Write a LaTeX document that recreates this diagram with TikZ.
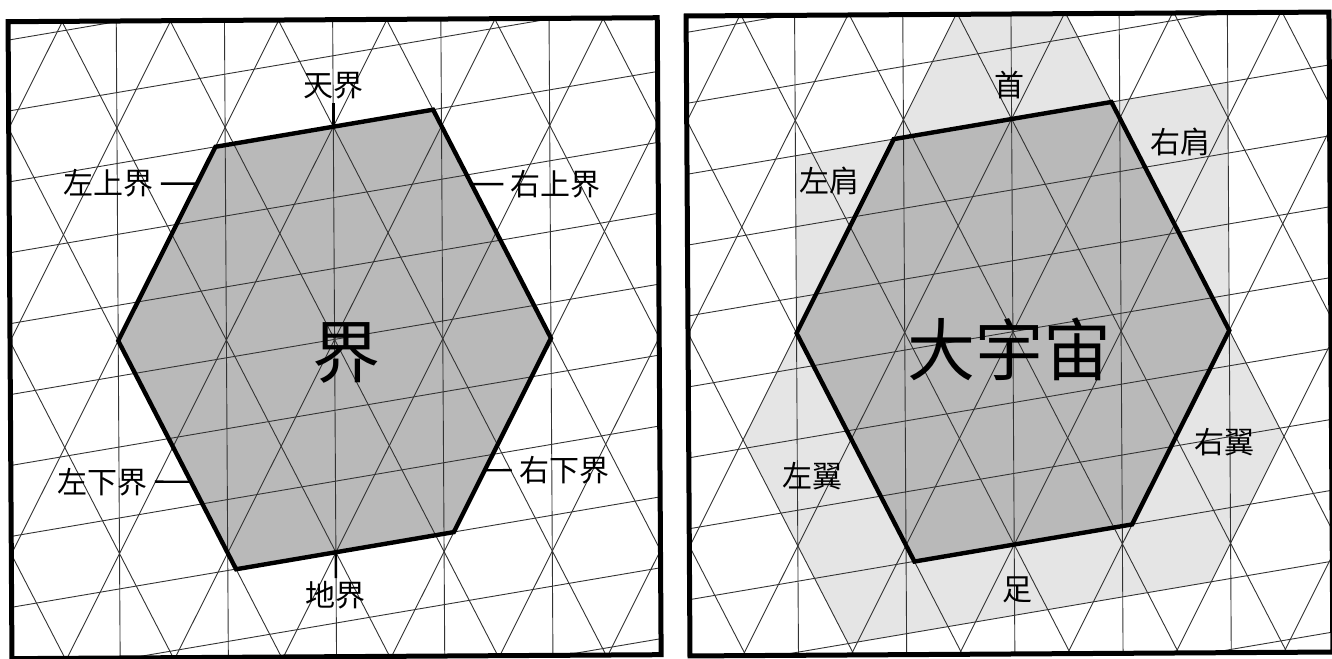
\documentclass[tikz,border=0pt]{standalone}
\usepackage{fontspec}
\setmainfont{Noto Sans CJK SC}
\usetikzlibrary{positioning,calc}

% lattice sizes (px of the scan)
\def\colw{54.1}
\def\rowh{106.4}
\def\tilt{0.164}

\tikzset{
  gridline/.style={line width=0.45pt, black!80},
  hexedge/.style={line width=2.2pt, line join=miter},
  panelframe/.style={line width=2.5pt},
  tick/.style={line width=1.2pt},
  lbl/.style={font=\fontsize{15}{15}\selectfont, inner sep=1.5pt},
  side/.style={lbl, inner sep=3.5pt},
  bigword/.style={font=\fontsize{34}{34}\selectfont, inner sep=0pt},
}

% triangle grid with the tilted lines, local coordinates
\newcommand{\trigrid}{%
  \foreach \a in {-4,-2,...,4}
    \draw[gridline] ({\a*\colw},-130) -- ({\a*\colw},560);
  \foreach \a in {-8,-6,...,12}
    \draw[gridline] ({(\a+1.5)*\colw},{-1.5*\rowh}) -- ({(\a-5.5)*\colw},{5.5*\rowh});
  \foreach \a in {-12,-10,...,8}
    \draw[gridline] ({(\a-1.5)*\colw},{-1.5*\rowh}) -- ({(\a+5.5)*\colw},{5.5*\rowh});
  \foreach \m in {-2,...,8}
    \draw[gridline] (-340,{70.9*\m+\tilt*340}) -- (340,{70.9*\m-\tilt*340});
}

% corners of the hexagon
\newcommand{\hexcorners}{%
  \coordinate (T) at (0,0);
  \coordinate (B) at (0,425.6);
  \coordinate (L) at (-216.4,212.8);
  \coordinate (TL) at (-118.0,19.4);
  \coordinate (TR) at (99.9,-16.4);
  \coordinate (R) at (216.4,212.8);
  \coordinate (BR) at (118.0,406.2);
  \coordinate (BL) at (-99.9,442.0);
}

\begin{document}
\begin{tikzpicture}[x=0.5pt,y=-0.5pt]
\useasboundingbox (0,0) rectangle (1332,658);

% left panel: the six borders
\begin{scope}[shift={(333.3,126.7)},rotate=0.35]
  \hexcorners
  \begin{scope}
    \clip (-324.6,-107) rectangle (324.6,530);
    \fill[gray!55] (L) -- (TL) -- (TR) -- (R) -- (BR) -- (BL) -- cycle;
    \trigrid
  \end{scope}
  \draw[hexedge] (L) -- (TL) -- (TR) -- (R) -- (BR) -- (BL) -- cycle;
  \draw[panelframe] (-324.6,-107) rectangle (324.6,530);

  \node[bigword] (jie) at (12,226) {界};

  \coordinate (ulp) at ($(TL)!0.19!(L)$);
  \coordinate (urp) at ($(TR)!0.326!(R)$);
  \coordinate (llp) at ($(L)!0.617!(BL)$);
  \coordinate (lrp) at ($(R)!0.681!(BR)$);

  \node[lbl, above=12pt of T] (tian) {天界};
  \node[lbl, below=13pt of B] (di) {地界};
  \node[side, left=18pt of ulp] (ul) {左上界};
  \node[side, right=16pt of urp] (ur) {右上界};
  \node[side, left=18pt of llp] (ll) {左下界};
  \node[side, right=13.5pt of lrp] (lr) {右下界};

  \draw[tick] (T) -- (tian);
  \draw[tick] (B) -- (di);
  \draw[tick] (ulp) -- (ul);
  \draw[tick] (urp) -- (ur);
  \draw[tick] (llp) -- (ll);
  \draw[tick] (lrp) -- (lr);
\end{scope}

% right panel: the great universe
\begin{scope}[shift={(1011.6,119)},rotate=0.35]
  \hexcorners
  \begin{scope}
    \clip (-324.9,-105) rectangle (318,535);
    % head, shoulders, wings and foot
    \fill[gray!20] (-216.4,35.5) -- (TL) -- (-54.1,-106.4) -- (54.1,-106.4) -- (TR)
      -- (216.4,-35.5) -- (R) -- (270.5,319.2) -- (216.4,425.6) -- (196.8,464)
      -- (-166.6,523.6) -- (-270.5,319.2) -- (L) -- cycle;
    \fill[gray!55] (L) -- (TL) -- (TR) -- (R) -- (BR) -- (BL) -- cycle;
    \trigrid
  \end{scope}
  \draw[hexedge] (L) -- (TL) -- (TR) -- (R) -- (BR) -- (BL) -- cycle;
  \draw[panelframe] (-324.9,-105) rectangle (318,535);

  \node[bigword] (cosmos) at (-3.6,230) {大宇宙};
  \node[lbl] (head) at (-1.6,-34) {首};
  \node[lbl] (rsh) at (168.4,24) {右肩};
  \node[lbl] (lsh) at (-182,61) {左肩};
  \node[lbl] (rwing) at (211,324) {右翼};
  \node[lbl] (lwing) at (-201,355.7) {左翼};
  \node[lbl] (foot) at (2.7,470.7) {足};
\end{scope}
\end{tikzpicture}
\end{document}
